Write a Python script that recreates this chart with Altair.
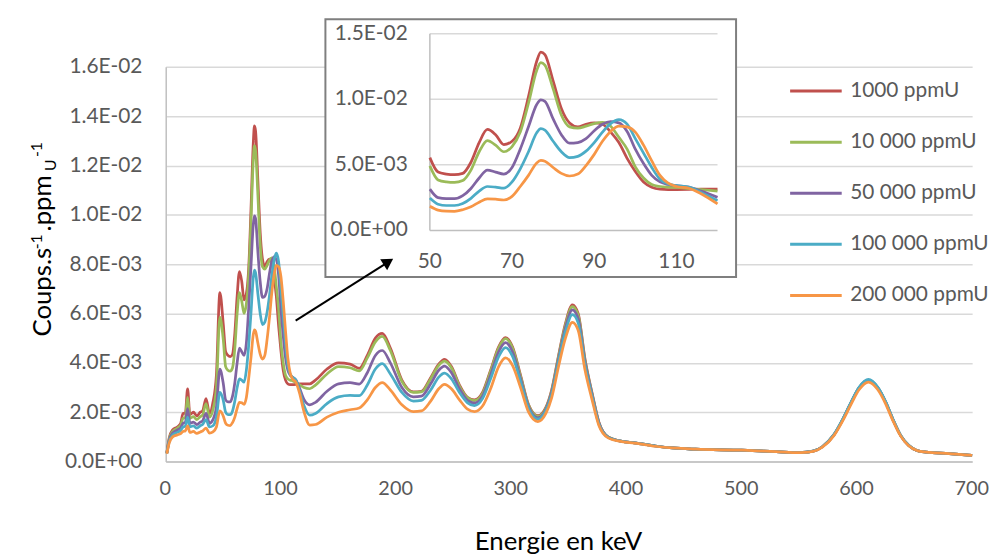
import altair as alt
import pandas as pd

# ---------------- data (values in units of 1E-03 counts/s/ppmU) ----------------
energy = [1, 3, 6, 10, 13, 15, 17, 19, 21, 24, 27, 30, 32, 35, 38, 41, 44, 47,
          50, 52, 54, 56, 58, 60, 62, 64, 66, 68, 70, 72, 74, 76, 77, 78, 80, 82,
          84, 86, 88, 90, 92, 94, 96, 98, 100, 102, 104, 106, 108, 110, 113, 116,
          120, 125, 130, 140, 150, 160, 168, 175, 182, 188, 195, 205, 215, 222,
          230, 237, 242, 248, 255, 262, 268, 275, 282, 289, 295, 301, 308, 315,
          323, 330, 335, 341, 347, 353, 358, 364, 370, 376, 384, 396, 407, 425,
          440, 460, 500, 530, 550, 562, 570, 580, 588, 595, 602, 610, 618, 625,
          631, 638, 645, 652, 660, 680, 700]

s1000 = [0.35, 0.95, 1.28, 1.40, 1.55, 1.95, 1.95, 2.95, 1.90, 2.00, 1.85, 2.00, 2.05, 2.55, 1.95, 2.40, 3.50, 6.85,
         5.55, 4.45, 4.30, 4.25, 4.35, 5.20, 6.70, 7.70, 7.30, 6.55, 6.80, 7.80, 10.2, 12.9, 13.6, 13.4, 11.4, 9.30,
         8.20, 7.90, 8.10, 8.20, 8.10, 7.50, 6.70, 5.50, 4.50, 3.70, 3.30, 3.15, 3.12, 3.12, 3.13, 3.15,
         3.15, 3.15, 3.30, 3.75, 4.00, 3.95, 3.78, 4.30, 5.00, 5.19, 4.60, 3.30, 2.82, 2.85,
         3.40, 3.95, 4.14, 3.85, 3.10, 2.60, 2.50, 2.80, 3.70, 4.65, 5.02, 4.65, 3.50, 2.30,
         1.86, 2.20, 2.90, 4.30, 5.60, 6.35, 6.00, 4.14, 2.80, 1.60, 1.00, 0.82, 0.76, 0.63,
         0.55, 0.50, 0.46, 0.40, 0.36, 0.42, 0.60, 1.08, 1.73, 2.40, 3.00, 3.30, 3.00, 2.40,
         1.73, 1.05, 0.65, 0.45, 0.38, 0.32, 0.25]

s10000 = [0.35, 0.90, 1.22, 1.35, 1.48, 1.75, 1.78, 2.60, 1.75, 1.82, 1.70, 1.82, 1.88, 2.35, 1.80, 2.10, 3.00, 5.85,
          4.92, 3.85, 3.70, 3.66, 3.80, 4.60, 6.00, 6.85, 6.50, 6.00, 6.40, 7.50, 9.70, 12.2, 12.8, 12.6, 10.8, 8.80,
          7.90, 7.80, 7.95, 8.15, 8.25, 7.95, 7.10, 6.20, 4.85, 4.00, 3.50, 3.35, 3.30, 3.28, 3.20, 3.12,
          3.00, 2.95, 3.10, 3.55, 3.85, 3.80, 3.67, 4.20, 4.85, 5.07, 4.50, 3.25, 2.80, 2.82,
          3.35, 3.90, 4.07, 3.80, 3.05, 2.58, 2.47, 2.75, 3.65, 4.60, 4.98, 4.60, 3.45, 2.28,
          1.83, 2.17, 2.86, 4.25, 5.53, 6.28, 5.93, 4.10, 2.77, 1.58, 1.00, 0.82, 0.76, 0.63,
          0.55, 0.50, 0.46, 0.40, 0.36, 0.42, 0.60, 1.08, 1.73, 2.40, 3.00, 3.28, 3.00, 2.40,
          1.73, 1.05, 0.65, 0.45, 0.38, 0.32, 0.25]

s50000 = [0.35, 0.85, 1.15, 1.27, 1.37, 1.55, 1.58, 2.15, 1.55, 1.60, 1.50, 1.60, 1.65, 1.95, 1.55, 1.70, 2.20, 3.75,
          3.15, 2.50, 2.42, 2.42, 2.65, 3.20, 4.00, 4.60, 4.45, 4.30, 4.80, 6.20, 7.90, 9.60, 9.96, 9.85, 8.50, 7.30,
          6.65, 6.70, 7.00, 7.60, 8.10, 8.30, 8.20, 7.55, 6.20, 5.10, 4.20, 3.70, 3.50, 3.42, 3.30, 3.00,
          2.52, 2.30, 2.40, 2.85, 3.15, 3.20, 3.14, 3.60, 4.30, 4.50, 4.00, 3.00, 2.62, 2.65,
          3.15, 3.70, 3.87, 3.60, 2.95, 2.48, 2.37, 2.65, 3.50, 4.45, 4.82, 4.45, 3.35, 2.22,
          1.77, 2.12, 2.80, 4.15, 5.42, 6.15, 5.80, 4.02, 2.73, 1.56, 0.99, 0.82, 0.76, 0.63,
          0.55, 0.50, 0.46, 0.40, 0.36, 0.42, 0.60, 1.08, 1.73, 2.40, 3.00, 3.30, 3.00, 2.40,
          1.73, 1.05, 0.65, 0.45, 0.38, 0.32, 0.25]

s100000 = [0.33, 0.80, 1.08, 1.18, 1.26, 1.40, 1.43, 1.80, 1.40, 1.45, 1.35, 1.45, 1.50, 1.70, 1.40, 1.45, 1.80, 2.80,
           2.47, 2.00, 1.90, 1.90, 2.05, 2.45, 3.00, 3.35, 3.30, 3.22, 3.70, 4.70, 6.00, 7.45, 7.76, 7.65, 6.80, 6.00,
           5.55, 5.65, 6.05, 6.70, 7.50, 8.15, 8.45, 8.10, 7.00, 5.90, 4.80, 3.90, 3.55, 3.42, 3.30, 2.90,
           2.27, 1.88, 1.95, 2.35, 2.62, 2.68, 2.67, 3.10, 3.75, 3.97, 3.55, 2.80, 2.45, 2.48,
           2.90, 3.42, 3.58, 3.35, 2.80, 2.38, 2.27, 2.55, 3.35, 4.25, 4.62, 4.27, 3.25, 2.15,
           1.72, 2.06, 2.72, 4.05, 5.27, 5.95, 5.62, 3.90, 2.65, 1.52, 0.98, 0.82, 0.76, 0.63,
           0.55, 0.50, 0.46, 0.40, 0.36, 0.42, 0.60, 1.09, 1.75, 2.42, 3.02, 3.33, 3.02, 2.42,
           1.75, 1.06, 0.66, 0.45, 0.38, 0.32, 0.25]

s200000 = [0.32, 0.75, 1.00, 1.08, 1.13, 1.22, 1.24, 1.45, 1.18, 1.22, 1.14, 1.20, 1.24, 1.35, 1.15, 1.20, 1.40, 2.05,
           1.84, 1.55, 1.47, 1.46, 1.58, 1.80, 2.15, 2.40, 2.38, 2.32, 2.60, 3.35, 4.20, 5.15, 5.34, 5.28, 4.80, 4.35,
           4.15, 4.30, 4.95, 5.80, 6.80, 7.55, 7.95, 7.90, 7.50, 6.50, 5.30, 4.20, 3.60, 3.35, 3.22, 2.80,
           2.02, 1.48, 1.50, 1.80, 2.00, 2.10, 2.17, 2.50, 3.00, 3.20, 2.90, 2.30, 2.02, 2.05,
           2.45, 2.95, 3.13, 2.95, 2.50, 2.12, 2.02, 2.25, 2.95, 3.85, 4.20, 3.90, 3.00, 2.00,
           1.62, 1.95, 2.58, 3.85, 5.00, 5.64, 5.32, 3.70, 2.52, 1.46, 0.96, 0.81, 0.75, 0.62,
           0.55, 0.50, 0.46, 0.40, 0.36, 0.41, 0.58, 1.05, 1.68, 2.33, 2.92, 3.22, 2.92, 2.33,
           1.68, 1.03, 0.64, 0.45, 0.38, 0.32, 0.25]

series_names = ["1000 ppmU", "10 000 ppmU", "50 000 ppmU", "100 000 ppmU", "200 000 ppmU"]
series_colors = ["#C0504D", "#9BBB59", "#8064A2", "#4BACC6", "#F79646"]

main_x_ticks = [0, 100, 200, 300, 400, 500, 600, 700]
main_y_ticks = [0, 0.002, 0.004, 0.006, 0.008, 0.010, 0.012, 0.014, 0.016]
inset_x_ticks = [50, 70, 90, 110]
inset_y_ticks = [0, 0.005, 0.010, 0.015]
inset_y_labels = ["0.0E+00", "5.0E-03", "1.0E-02", "1.5E-02"]

# ---------------- table ----------------
rows = []
for k, (name, vals) in enumerate(zip(series_names, [s1000, s10000, s50000, s100000, s200000])):
    for e, v in zip(energy, vals):
        rows.append({"E": e, "v": v * 1e-3, "series": name, "k": k})
df = pd.DataFrame(rows)

FONT = "Lato"
GRAY_TXT = "#595959"
GRID = "#d9d9d9"
AXIS = "#bfbfbf"

W, H = 813, 398
PAD = {"left": 159, "top": 57, "right": 17, "bottom": 94}

# inset geometry (plot coordinates)
IX0, IX1 = 266.3, 556.3
IY0, IY1 = 165.0, -33.3

y_label_expr = ("datum.value < 1e-9 ? '0.0E+00' : (datum.value >= 0.0095 ? "
                "format(datum.value*100, '.1f') + 'E-02' : format(datum.value*1000, '.1f') + 'E-03')")

color_main = alt.Color(
    "series:N",
    scale=alt.Scale(domain=series_names, range=series_colors),
    legend=alt.Legend(
        orient="none", legendX=628, legendY=-3, title=None,
        symbolType="stroke", symbolSize=2704, symbolStrokeWidth=3,
        labelFont=FONT, labelFontSize=21, labelColor=GRAY_TXT,
        labelOffset=7, rowPadding=13.5, padding=0, labelLimit=400,
    ),
)

main_lines = alt.Chart(df).mark_line(strokeWidth=2.75, interpolate="monotone").encode(
    x=alt.X("E:Q", scale=alt.Scale(domain=[0, 700], nice=False),
            axis=alt.Axis(values=main_x_ticks, title=None, grid=False, ticks=False, tickSize=0,
                          labelFont=FONT, labelFontSize=20, labelColor=GRAY_TXT,
                          labelPadding=27, labelBaseline="middle", labelOffset=-1,
                          domainColor=AXIS, domainWidth=1.5, labelFlush=False)),
    y=alt.Y("v:Q", scale=alt.Scale(domain=[0, 0.016], nice=False),
            axis=alt.Axis(values=main_y_ticks, title=None, grid=True, gridColor=GRID, gridWidth=1.5,
                          ticks=False, tickSize=0, labelExpr=y_label_expr,
                          labelFont=FONT, labelFontSize=21, labelColor=GRAY_TXT,
                          labelPadding=24, domainColor=AXIS, domainWidth=1.5)),
    color=color_main,
    order=alt.Order("k:Q"),
)

# inset frame
box = alt.Chart(pd.DataFrame({"a": [0]})).mark_rect(
    fill="white", stroke="#7f7f7f", strokeWidth=2
).encode(x=alt.value(161), x2=alt.value(575), y=alt.value(-48), y2=alt.value(212))

ix_scale = alt.Scale(domain=[50, 120], range=[IX0, IX1], nice=False, zero=False)
iy_scale = alt.Scale(domain=[0, 0.015], range=[IY0, IY1], nice=False)

tick_df = pd.DataFrame({"t": inset_y_ticks, "lab": inset_y_labels})
inset_grid = alt.Chart(tick_df).mark_rule(strokeWidth=1.5).encode(
    y=alt.Y("t:Q", scale=iy_scale, axis=None),
    x=alt.value(IX0), x2=alt.value(IX1),
    color=alt.condition("datum.t == 0", alt.value(AXIS), alt.value(GRID)),
)
inset_left = alt.Chart(pd.DataFrame({"e": [50]})).mark_rule(strokeWidth=1.5, color=AXIS).encode(
    x=alt.X("e:Q", scale=ix_scale, axis=None), y=alt.value(IY0), y2=alt.value(IY1),
)
inset_lines = alt.Chart(df).transform_filter("datum.E >= 50 && datum.E <= 120").mark_line(
    strokeWidth=2.75, interpolate="monotone"
).encode(
    x=alt.X("E:Q", scale=ix_scale, axis=None),
    y=alt.Y("v:Q", scale=iy_scale, axis=None),
    color=alt.Color("series:N", scale=alt.Scale(domain=series_names, range=series_colors), legend=None),
    order=alt.Order("k:Q"),
)
inset_ylab = alt.Chart(tick_df).mark_text(
    align="right", baseline="middle", font=FONT, fontSize=21, color=GRAY_TXT
).encode(y=alt.Y("t:Q", scale=iy_scale, axis=None), x=alt.value(244), text="lab:N")
inset_xlab = alt.Chart(pd.DataFrame({"e": inset_x_ticks})).mark_text(
    align="center", baseline="middle", font=FONT, fontSize=21, color=GRAY_TXT
).encode(x=alt.X("e:Q", scale=ix_scale, axis=None), y=alt.value(197), text="e:N")

# arrow
arrow_line = alt.Chart(pd.DataFrame({"a": [0]})).mark_rule(color="black", strokeWidth=2).encode(
    x=alt.value(131), y=alt.value(256), x2=alt.value(225), y2=alt.value(196.5)
)
arrow_head = alt.Chart(pd.DataFrame({"a": [0]})).mark_point(
    shape="triangle-up", filled=True, color="black", size=170, angle=57.5, opacity=1
).encode(x=alt.value(224.5), y=alt.value(196.5))

# axis titles
def txt(s, x, y, size, angle=0, align="left", baseline="alphabetic"):
    return alt.Chart(pd.DataFrame({"s": [s]})).mark_text(
        font=FONT, fontSize=size, color="black", angle=angle, align=align, baseline=baseline
    ).encode(x=alt.value(x), y=alt.value(y), text="s:N")

x_title = txt("Energie en keV", 396, 487, 26, align="center")
yt = [
    txt("Coups.s", -116, 272, 26, angle=270),
    txt("-1", -125, 184, 16, angle=270),
    txt(".ppm", -116, 166, 26, angle=270),
    txt("U", -111, 105, 16, angle=270),
    txt("-1", -125, 91, 16, angle=270),
]

chart = alt.layer(
    main_lines, box, inset_grid, inset_left, inset_lines, inset_ylab, inset_xlab,
    arrow_line, arrow_head, x_title, *yt
).resolve_scale(x="independent", y="independent").properties(
    width=W, height=H, padding=PAD, autosize=alt.AutoSizeParams(type="none"),
).configure_view(stroke=None)

chart.save("out.html", embed_options={"renderer": "svg", "actions": False})
